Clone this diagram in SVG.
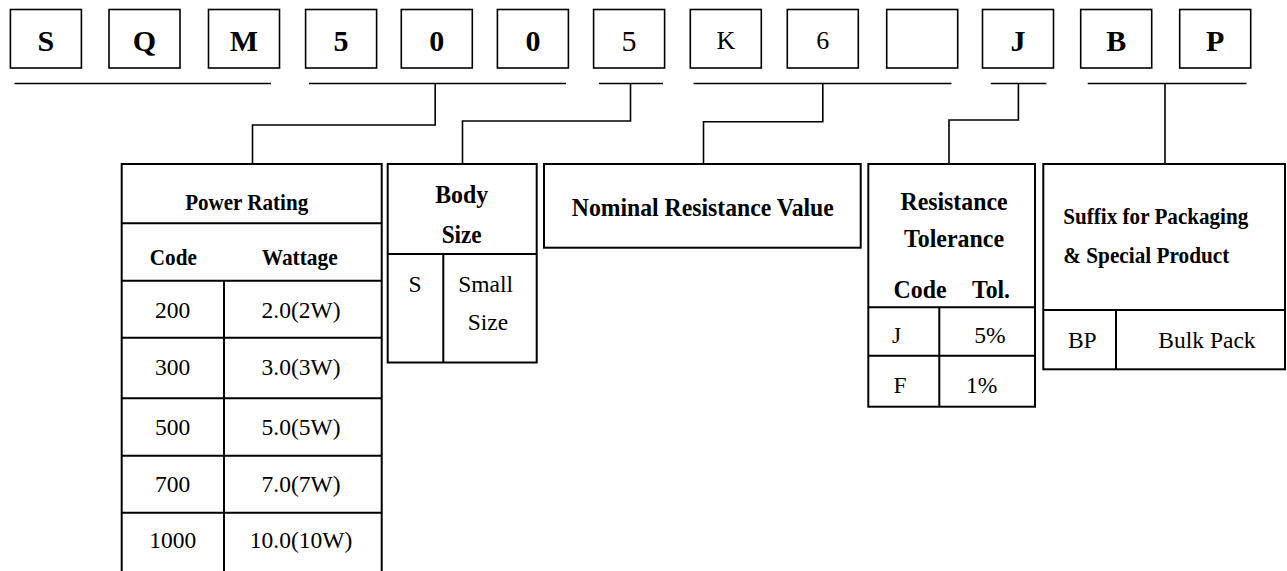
<svg xmlns="http://www.w3.org/2000/svg" width="1287" height="571" viewBox="0 0 1287 571">
<style>
text{font-family:"Liberation Serif","Times New Roman",serif;fill:#000;text-anchor:middle}
.b{font-weight:bold}
.top{font-size:30px}
.k{font-size:26px}
.h21{font-size:22.5px;font-weight:bold}
.h23{font-size:25px;font-weight:bold}
.r{font-size:23.5px}
.box{fill:#fff;stroke:#000;stroke-width:1.6}
.tbl{fill:#fff;stroke:#000;stroke-width:2}
.ln{fill:none;stroke:#000;stroke-width:2}
.con{fill:none;stroke:#000;stroke-width:1.6}
.ul{stroke:#000;stroke-width:1.6}
</style>
<rect width="1287" height="571" fill="#fff"/>
<g id="code">
<g id="c1"><rect class="box" x="10.4" y="9.5" width="71" height="58.5"/><text class="top b" x="45.9" y="51">S</text></g>
<g id="c2"><rect class="box" x="109" y="9.5" width="71" height="58.5"/><text class="top b" x="144.5" y="51">Q</text></g>
<g id="c3"><rect class="box" x="208.5" y="9.5" width="71" height="58.5"/><text class="top b" x="244" y="51">M</text></g>
<g id="c4"><rect class="box" x="305.6" y="9.5" width="71" height="58.5"/><text class="top b" x="341.1" y="51">5</text></g>
<g id="c5"><rect class="box" x="401.3" y="9.5" width="71" height="58.5"/><text class="top b" x="436.8" y="51">0</text></g>
<g id="c6"><rect class="box" x="497.4" y="9.5" width="71" height="58.5"/><text class="top b" x="532.9" y="51">0</text></g>
<g id="c7"><rect class="box" x="593.6" y="9.5" width="71" height="58.5"/><text class="top" x="629.1" y="51">5</text></g>
<g id="c8"><rect class="box" x="690.3" y="9.5" width="71" height="58.5"/><text class="k" x="725.8" y="49">K</text></g>
<g id="c9"><rect class="box" x="787.3" y="9.5" width="71" height="58.5"/><text class="k" x="822.8" y="49">6</text></g>
<g id="c10"><rect class="box" x="886.7" y="9.5" width="71" height="58.5"/></g>
<g id="c11"><rect class="box" x="982.5" y="9.5" width="71" height="58.5"/><text class="top b" x="1018" y="51">J</text></g>
<g id="c12"><rect class="box" x="1080.7" y="9.5" width="71" height="58.5"/><text class="top b" x="1116.2" y="51">B</text></g>
<g id="c13"><rect class="box" x="1179.7" y="9.5" width="71" height="58.5"/><text class="top b" x="1215.2" y="51">P</text></g>
</g>
<g id="connectors">
<line class="ul" x1="14.5" y1="83.5" x2="271" y2="83.5"/>
<line class="ul" x1="309" y1="83.5" x2="566" y2="83.5"/>
<line class="ul" x1="599" y1="83.5" x2="663" y2="83.5"/>
<line class="ul" x1="693.6" y1="83.5" x2="951.5" y2="83.5"/>
<line class="ul" x1="990.7" y1="83.5" x2="1046.4" y2="83.5"/>
<line class="ul" x1="1087.7" y1="83.5" x2="1246.5" y2="83.5"/>
<path class="con" d="M435.2 83.5V125H252.5V164"/>
<path class="con" d="M630.5 83.5V121H462.5V164"/>
<path class="con" d="M822.8 83.5V121.7H703.5V164"/>
<path class="con" d="M1018.4 83.5V120H949V164"/>
<path class="con" d="M1165 83.5V164"/>
</g>
<g id="power">
<path class="ln" d="M121.7 571V164H381.7V571"/>
<path class="ln" d="M121.7 223.3H381.7M121.7 280.7H381.7M121.7 337.7H381.7M121.7 398.3H381.7M121.7 455.7H381.7M121.7 512.7H381.7M224 280.7V571"/>
<text class="h21" x="246.7" y="210" textLength="123" lengthAdjust="spacingAndGlyphs">Power Rating</text>
<text class="h21" x="173.3" y="265" textLength="47" lengthAdjust="spacingAndGlyphs">Code</text>
<text class="h21" x="299.7" y="265" textLength="76" lengthAdjust="spacingAndGlyphs">Wattage</text>
<text class="r" x="172.7" y="318">200</text><text class="r" x="301" y="318">2.0(2W)</text>
<text class="r" x="172.7" y="375">300</text><text class="r" x="301" y="375">3.0(3W)</text>
<text class="r" x="172.7" y="435">500</text><text class="r" x="301" y="435">5.0(5W)</text>
<text class="r" x="172.7" y="491.7">700</text><text class="r" x="301" y="491.7">7.0(7W)</text>
<text class="r" x="172.7" y="548.3">1000</text><text class="r" x="301" y="548.3">10.0(10W)</text>
</g>
<g id="body">
<rect class="tbl" x="387.7" y="164" width="149" height="198.5"/>
<path class="ln" d="M387.7 254H536.7M443.3 254V362.5"/>
<text class="h23" x="461.7" y="203" textLength="53" lengthAdjust="spacingAndGlyphs">Body</text>
<text class="h23" x="461.7" y="243" textLength="40" lengthAdjust="spacingAndGlyphs">Size</text>
<text class="r" x="415" y="291.7">S</text>
<text class="r" x="485.7" y="291.7">Small</text>
<text class="r" x="488" y="330">Size</text>
</g>
<g id="nominal">
<rect class="tbl" x="544" y="164" width="316.7" height="83.7"/>
<text class="h23" x="702.8" y="215.7" textLength="262" lengthAdjust="spacingAndGlyphs">Nominal Resistance Value</text>
</g>
<g id="tolerance">
<rect class="tbl" x="868.3" y="164" width="166.7" height="242.7"/>
<path class="ln" d="M868.3 307.3H1035M868.3 355.7H1035M939.3 307.3V406.7"/>
<text class="h23" x="954" y="210" textLength="107" lengthAdjust="spacingAndGlyphs">Resistance</text>
<text class="h23" x="954" y="247.3" textLength="100" lengthAdjust="spacingAndGlyphs">Tolerance</text>
<text class="h23" x="920" y="298.3" textLength="53" lengthAdjust="spacingAndGlyphs">Code</text>
<text class="h23" x="991" y="298.3" textLength="38" lengthAdjust="spacingAndGlyphs">Tol.</text>
<text class="r" x="896.7" y="343.3">J</text>
<text class="r" x="990" y="343.3">5%</text>
<text class="r" x="900" y="392.7">F</text>
<text class="r" x="981.7" y="392.7">1%</text>
</g>
<g id="suffix">
<rect class="tbl" x="1043.3" y="164" width="241.7" height="205.3"/>
<path class="ln" d="M1043.3 310H1285M1116 310V369.3"/>
<text class="h21" x="1063.3" y="224" style="text-anchor:start" textLength="185" lengthAdjust="spacingAndGlyphs">Suffix for Packaging</text>
<text class="h21" x="1063.3" y="262.7" style="text-anchor:start" textLength="166" lengthAdjust="spacingAndGlyphs">&amp; Special Product</text>
<text class="r" x="1082.3" y="348.3">BP</text>
<text class="r" x="1207" y="348.3">Bulk Pack</text>
</g>
</svg>
